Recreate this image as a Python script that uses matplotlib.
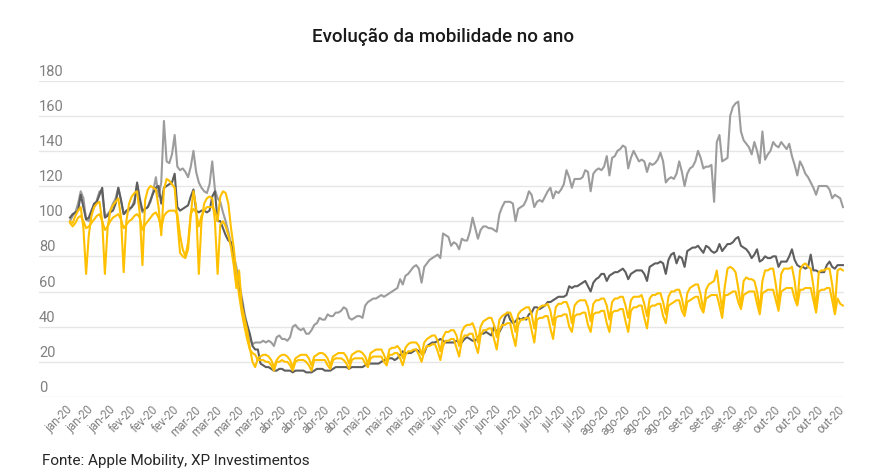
import matplotlib
matplotlib.use("Agg")
import matplotlib.pyplot as plt
import numpy as np

plt.rcParams['font.family'] = ['Roboto', 'DejaVu Sans']

# Daily values (index 0 = first day of the series), one row per week
light_gray = [
    100, 103, 105, 110, 117, 113, 101,
    100, 105, 108, 112, 117, 116, 103,
    104, 106, 110, 113, 119, 112, 104,
    105, 106, 108, 112, 121, 110, 105,
    107, 108, 111, 117, 125, 114, 122,
    157, 134, 133, 138, 149, 131, 129,
    130, 128, 125, 131, 140, 128, 122,
    119, 117, 116, 121, 134, 118, 113,
    111, 105, 100, 94, 87, 80, 74,
    65, 57, 48, 41, 33, 30, 31,
    31, 31, 32, 31, 32, 31, 29,
    34, 35, 33, 33, 32, 34, 40,
    41, 39, 38, 39, 36, 36, 38,
    41, 42, 45, 44, 44, 47, 46,
    46, 48, 48, 49, 51, 50, 45,
    44, 45, 46, 46, 45, 52, 54,
    55, 56, 56, 57, 58, 57, 58,
    59, 60, 61, 62, 67, 64, 69,
    70, 72, 74, 75, 73, 65, 74,
    76, 78, 79, 80, 81, 79, 93,
    92, 91, 86, 88, 87, 84, 90,
    89, 89, 94, 102, 96, 90, 95,
    97, 97, 96, 96, 95, 94, 104,
    108, 111, 111, 111, 110, 100, 107,
    108, 109, 112, 117, 115, 108, 111,
    112, 111, 114, 117, 119, 113, 117,
    116, 118, 121, 129, 125, 119, 124,
    124, 124, 125, 129, 128, 117, 127,
    129, 130, 129, 131, 137, 126, 136,
    137, 140, 141, 143, 142, 130, 136,
    140, 137, 134, 135, 134, 128, 133,
    132, 133, 135, 139, 134, 122, 124,
    125, 124, 127, 134, 128, 120, 127,
    130, 131, 134, 140, 136, 130, 131,
    131, 132, 111, 145, 149, 134, 135,
    136, 160, 165, 167, 168, 151, 146,
    144, 142, 138, 145, 140, 133, 151,
    135, 138, 140, 145, 143, 142, 145,
    143, 141, 144, 137, 132, 126, 134,
    131, 127, 125, 122, 119, 115, 120,
    120, 120, 120, 118, 113, 115, 114,
    113, 108,
]

dark_gray = [
    102, 104, 105, 106, 115, 108, 101,
    102, 106, 110, 111, 115, 119, 102,
    103, 105, 106, 110, 119, 112, 104,
    106, 107, 108, 110, 122, 113, 106,
    107, 108, 112, 116, 119, 120, 110,
    119, 120, 121, 122, 127, 108, 106,
    107, 108, 109, 114, 118, 106, 105,
    106, 106, 105, 106, 114, 117, 100,
    100, 96, 92, 89, 88, 80, 67,
    61, 55, 46, 41, 36, 29, 27,
    27, 19, 18, 17, 17, 16, 15,
    15, 16, 16, 15, 15, 15, 14,
    15, 15, 15, 15, 14, 14, 14,
    15, 16, 16, 16, 15, 15, 15,
    16, 17, 17, 17, 17, 17, 16,
    17, 17, 17, 17, 17, 18, 19,
    19, 19, 19, 19, 20, 21, 21,
    22, 22, 21, 22, 24, 26, 25,
    25, 25, 26, 27, 26, 25, 25,
    29, 30, 31, 31, 32, 33, 32,
    31, 31, 31, 31, 32, 31, 31,
    33, 34, 33, 32, 32, 34, 36,
    36, 37, 36, 35, 40, 37, 37,
    40, 45, 48, 44, 42, 43, 45,
    44, 45, 44, 47, 48, 51, 51,
    50, 51, 52, 54, 54, 55, 56,
    57, 57, 57, 58, 63, 62, 63,
    63, 64, 65, 66, 63, 60, 65,
    67, 68, 70, 70, 66, 69, 70,
    71, 71, 72, 73, 71, 67, 70,
    71, 72, 72, 72, 70, 66, 74,
    75, 76, 76, 77, 76, 70, 78,
    81, 82, 76, 80, 79, 74, 83,
    84, 85, 85, 86, 84, 82, 86,
    85, 83, 82, 83, 87, 83, 85,
    87, 87, 88, 90, 91, 86, 85,
    84, 82, 79, 81, 84, 77, 78,
    80, 79, 79, 80, 80, 74, 77,
    77, 77, 80, 84, 78, 75, 74,
    74, 73, 74, 81, 72, 72, 71,
    71, 71, 75, 77, 74, 73, 75,
    75, 75,
]

yellow_upper = [
    100, 99, 103, 106, 108, 96, 70,
    92, 103, 108, 110, 111, 100, 70,
    96, 106, 109, 111, 113, 102, 71,
    100, 110, 114, 116, 117, 104, 75,
    112, 118, 120, 119, 118, 108, 92,
    118, 124, 123, 121, 119, 100, 82,
    80, 79, 84, 104, 117, 108, 70,
    100, 110, 113, 114, 113, 100, 70,
    98, 100, 97, 92, 85, 75, 62,
    72, 52, 45, 38, 28, 20, 17,
    22, 23, 24, 24, 23, 21, 17,
    21, 23, 24, 24, 23, 21, 17,
    22, 23, 24, 24, 24, 22, 18,
    23, 24, 25, 25, 24, 22, 18,
    23, 24, 25, 25, 25, 23, 19,
    24, 25, 26, 26, 25, 23, 19,
    25, 26, 27, 27, 27, 24, 20,
    27, 28, 28, 29, 27, 22, 28,
    30, 31, 31, 31, 29, 24, 31,
    33, 34, 35, 35, 32, 26, 34,
    37, 37, 38, 38, 35, 29, 37,
    40, 41, 41, 42, 38, 31, 40,
    43, 44, 45, 45, 41, 34, 44,
    46, 47, 48, 48, 44, 37, 47,
    49, 50, 51, 51, 47, 39, 49,
    51, 52, 52, 53, 49, 41, 51,
    53, 53, 54, 54, 50, 42, 52,
    54, 55, 55, 55, 51, 43, 53,
    55, 55, 56, 56, 52, 44, 54,
    56, 56, 57, 57, 52, 45, 55,
    57, 57, 57, 58, 53, 46, 56,
    58, 58, 59, 59, 54, 47, 57,
    60, 60, 61, 61, 56, 48, 59,
    62, 63, 64, 64, 58, 49, 61,
    64, 65, 66, 72, 60, 50, 63,
    73, 74, 73, 71, 62, 52, 66,
    68, 67, 67, 66, 60, 50, 66,
    72, 72, 73, 73, 64, 52, 70,
    73, 73, 73, 74, 66, 53, 72,
    75, 76, 74, 73, 63, 50, 71,
    72, 72, 73, 73, 64, 51, 72,
    73, 72,
]

yellow_lower = [
    99, 97, 99, 102, 103, 100, 96,
    97, 99, 101, 103, 104, 100, 95,
    97, 100, 102, 103, 104, 101, 96,
    98, 100, 101, 103, 104, 102, 95,
    98, 100, 102, 104, 105, 102, 96,
    103, 105, 106, 106, 106, 104, 92,
    84, 80, 88, 104, 107, 105, 97,
    103, 106, 108, 108, 108, 106, 100,
    114, 117, 116, 110, 96, 85, 70,
    58, 48, 40, 33, 27, 25, 24,
    21, 21, 21, 20, 20, 18, 15,
    20, 20, 21, 20, 20, 18, 15,
    20, 21, 21, 21, 20, 18, 15,
    21, 21, 21, 21, 21, 18, 16,
    21, 22, 22, 22, 21, 19, 16,
    21, 22, 22, 22, 22, 19, 17,
    22, 23, 23, 23, 23, 20, 18,
    24, 24, 25, 25, 22, 18, 24,
    26, 26, 27, 27, 24, 20, 26,
    29, 29, 30, 30, 26, 21, 29,
    32, 32, 33, 33, 28, 23, 32,
    35, 35, 36, 36, 30, 25, 35,
    38, 38, 39, 39, 33, 27, 38,
    41, 41, 42, 42, 35, 29, 41,
    44, 44, 45, 45, 38, 31, 44,
    45, 45, 46, 46, 39, 33, 45,
    46, 46, 47, 47, 40, 37, 46,
    47, 47, 48, 48, 41, 37, 47,
    48, 48, 49, 49, 42, 37, 48,
    49, 49, 50, 50, 43, 37, 49,
    51, 51, 52, 52, 45, 39, 51,
    52, 52, 53, 53, 46, 42, 52,
    53, 54, 55, 55, 49, 46, 54,
    55, 56, 57, 57, 51, 48, 56,
    57, 58, 58, 58, 52, 45, 58,
    58, 59, 60, 60, 54, 50, 58,
    59, 60, 60, 60, 53, 47, 59,
    60, 61, 61, 61, 55, 49, 60,
    61, 62, 62, 62, 56, 52, 61,
    61, 62, 62, 62, 55, 48, 60,
    61, 61, 62, 62, 55, 47, 56,
    53, 52,
]

tick_labels = [
    "jan-20", "jan-20", "jan-20", "fev-20", "fev-20", "fev-20",
    "mar-20", "mar-20", "mar-20", "mar-20",
    "abr-20", "abr-20", "abr-20", "abr-20",
    "mai-20", "mai-20", "mai-20", "mai-20",
    "jun-20", "jun-20", "jun-20", "jun-20",
    "jul-20", "jul-20", "jul-20",
    "ago-20", "ago-20", "ago-20", "ago-20",
    "set-20", "set-20", "set-20", "set-20",
    "out-20", "out-20", "out-20", "out-20",
]
y_ticks = [0, 20, 40, 60, 80, 100, 120, 140, 160, 180]

title = "Evolução da mobilidade no ano"
source = "Fonte: Apple Mobility, XP Investimentos"

W, H = 887, 473
fig = plt.figure(figsize=(W / 100, H / 100), dpi=100)
fig.patch.set_facecolor("white")
ax = fig.add_axes([39 / W, (H - 397) / H, 805 / W, 316.5 / H])

x = np.arange(len(light_gray))
lw = 1.5
ax.plot(x, light_gray, color="#9C9C9C", lw=lw, solid_joinstyle="round")
ax.plot(x, dark_gray, color="#5E5E5E", lw=lw, solid_joinstyle="round")
ax.plot(x, yellow_upper, color="#FFC000", lw=lw, solid_joinstyle="round")
ax.plot(x, yellow_lower, color="#FFC000", lw=lw, solid_joinstyle="round")

ax.set_ylim(0, 180)
ax.set_xlim(-11.55, 288.4)
ax.set_yticks(y_ticks)
ax.yaxis.grid(True, color="#E6E6E6", lw=1.0)
ax.set_axisbelow(True)
ax.tick_params(axis="y", length=0, labelleft=False)
for v in y_ticks:
    ax.annotate(str(v), xy=(0, v), xycoords=("axes fraction", "data"),
                xytext=(0, 5), textcoords="offset pixels",
                ha="left", va="baseline", fontsize=10.5, color="#808080")

ticks = np.arange(0, len(light_gray), 8)
ax.set_xticks(ticks)
ax.set_xticklabels(tick_labels, rotation=45, ha="right", va="center",
                   rotation_mode="anchor", fontsize=8.5, color="#808080")
ax.tick_params(axis="x", length=0, pad=8)
for s in ax.spines.values():
    s.set_visible(False)

fig.text(0.5, 1 - 37 / H, title, ha="center", va="center",
         fontsize=13.5, fontweight="medium", color="#1A1A1A")
fig.text(42 / W, 1 - 461 / H, source, ha="left", va="center",
         fontsize=11, color="#262626")

fig.savefig("out.png", dpi=100, facecolor="white")
